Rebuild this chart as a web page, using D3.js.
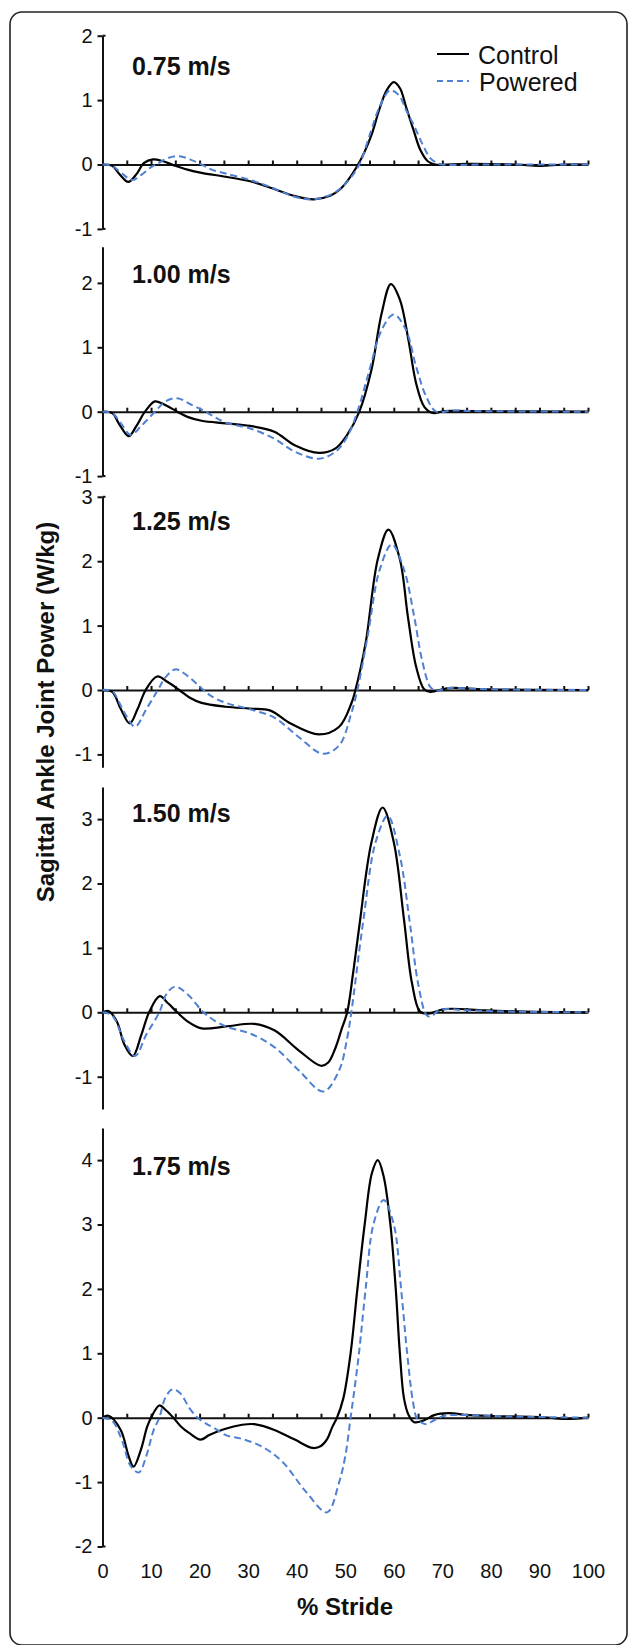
<!DOCTYPE html>
<html>
<head>
<meta charset="utf-8">
<script src="https://cdn.jsdelivr.net/npm/d3@7"></script>
<style>
body { margin: 0; background: #fff; }
svg { display: block; }
text { font-family: "Liberation Sans", Arial, sans-serif; fill: #111; }
</style>
</head>
<body>
<svg class="chart"></svg>
<script>
// speeds shown in each panel
var speeds = ["0.75 m/s", "1.00 m/s", "1.25 m/s", "1.50 m/s", "1.75 m/s"];
var seriesNames = ["Control", "Powered"];
var strideTicks = [0, 10, 20, 30, 40, 50, 60, 70, 80, 90, 100];

var yTicks075 = [-1, 0, 1, 2];
var yTicks100 = [-1, 0, 1, 2];
var yTicks125 = [-1, 0, 1, 2, 3];
var yTicks150 = [-1, 0, 1, 2, 3];
var yTicks175 = [-2, -1, 0, 1, 2, 3, 4];

// [% stride, W/kg]
var control075 = [[0,0],[2,-0.02],[3.5,-0.15],[5.3,-0.27],[7,-0.15],[8.5,0.02],[10.4,0.08],[12.5,0.05],[15,-0.02],[17.5,-0.08],[20.4,-0.13],[25.4,-0.19],[30.4,-0.26],[34.6,-0.36],[39.6,-0.49],[43.5,-0.54],[47,-0.48],[49,-0.38],[50.5,-0.25],[52.5,-0.02],[54,0.2],[55.5,0.48],[57,0.85],[58.5,1.15],[60,1.28],[61.3,1.18],[62.5,0.9],[64,0.55],[65.5,0.22],[67,0.05],[68.5,0],[75,0.01],[85,0],[90,-0.02],[95,0],[100,0]];
var powered075 = [[0,0],[2,-0.02],[4,-0.14],[6.2,-0.24],[8,-0.16],[10,-0.04],[11.7,0.03],[13.5,0.1],[15.8,0.13],[18,0.08],[20.4,0],[22.5,-0.08],[25.4,-0.14],[30.4,-0.24],[34.6,-0.35],[39.6,-0.5],[43.5,-0.54],[47.5,-0.45],[50.4,-0.27],[52.9,0],[55,0.45],[57,0.88],[59.2,1.15],[61,1.08],[62.5,0.85],[64.2,0.6],[66,0.3],[67.5,0.1],[69,0.02],[70,0],[80,0],[100,0]];

var control100 = [[0,0],[2,-0.02],[3.5,-0.2],[5.4,-0.38],[7,-0.22],[8.75,0],[10.8,0.16],[12.5,0.12],[15.4,0],[17.5,-0.08],[20.4,-0.14],[25.4,-0.18],[30.4,-0.22],[35.4,-0.31],[39.6,-0.52],[44.6,-0.64],[48,-0.57],[50.4,-0.36],[52.9,0],[55.4,0.65],[57.5,1.53],[59.4,1.98],[61.25,1.74],[63,1.12],[64.6,0.44],[66.25,0.08],[68,-0.02],[70.4,0.01],[75,0.01],[100,0]];
var powered100 = [[0,0],[2,-0.02],[3.8,-0.18],[5.8,-0.36],[8,-0.22],[10.8,0],[13,0.16],[15.4,0.21],[18,0.12],[21.25,0],[23,-0.08],[25.4,-0.17],[30.4,-0.26],[35.4,-0.42],[39.6,-0.62],[44.6,-0.73],[48,-0.62],[50.4,-0.39],[52.5,0],[55,0.65],[57.5,1.27],[60,1.51],[62.5,1.27],[64.6,0.7],[66.7,0.23],[68.75,0],[72,0.02],[76,0.01],[100,0]];

var control125 = [[0,0],[2,-0.03],[3.8,-0.3],[5.6,-0.52],[7.2,-0.3],[8.9,0],[11.25,0.21],[13.5,0.12],[15.8,0],[18,-0.12],[20.4,-0.2],[25.4,-0.26],[30.4,-0.29],[34.6,-0.32],[38.75,-0.52],[44.6,-0.69],[48.75,-0.57],[51.25,-0.21],[52.1,0],[54.2,0.73],[56.7,2.03],[58.9,2.49],[61.25,2.03],[62.9,1.14],[64.6,0.36],[66.25,0.01],[67.5,-0.03],[71.25,0.03],[78.75,0.01],[100,0]];
var powered125 = [[0,0],[2,-0.02],[4.5,-0.35],[6.7,-0.57],[9,-0.3],[11.4,0],[13,0.2],[15,0.32],[17.5,0.22],[20.8,0],[22.5,-0.1],[25.4,-0.2],[30.4,-0.3],[35.4,-0.43],[40.4,-0.73],[45.4,-0.99],[48.75,-0.86],[51.25,-0.36],[52.5,0],[54.6,0.83],[57.1,1.87],[59.6,2.26],[62.1,1.87],[64.2,1.14],[65.8,0.47],[67.5,0.05],[68.75,-0.01],[71.25,0.03],[80,0.01],[100,0]];

var control150 = [[0,0],[1.25,0.02],[3,-0.15],[4.5,-0.5],[6.25,-0.68],[8,-0.35],[9.6,0],[11.8,0.25],[13.5,0.14],[15.4,0],[17.5,-0.14],[20.4,-0.25],[25.4,-0.22],[31.25,-0.18],[35.4,-0.28],[40.4,-0.59],[45,-0.83],[46.5,-0.78],[48,-0.55],[49.3,-0.25],[50.4,0],[51.6,0.6],[52.9,1.34],[55.4,2.64],[57.7,3.18],[60,2.64],[62.1,1.44],[63.75,0.45],[65.4,0.01],[67.1,-0.02],[70.4,0.05],[78.75,0.03],[87,0.01],[100,0]];
var powered150 = [[0,0],[2,-0.05],[4.5,-0.45],[6.7,-0.68],[9,-0.35],[11.7,0],[13.3,0.3],[15,0.4],[17.5,0.28],[20.8,0],[22.5,-0.1],[25.4,-0.22],[30.4,-0.33],[35.4,-0.54],[40.4,-0.9],[45.5,-1.23],[48.75,-0.9],[50.4,-0.4],[51.25,0],[53.75,1.44],[56.25,2.64],[58.75,3.05],[61.25,2.43],[63.3,1.39],[65,0.45],[66.7,-0.04],[67.5,-0.07],[69.6,0.04],[75,0.03],[85,0.01],[100,0]];

var control175 = [[0,0],[1.25,0.03],[3.75,-0.19],[5.4,-0.6],[6.4,-0.76],[7.9,-0.5],[9.2,-0.14],[10,0],[11.7,0.19],[13,0.12],[14.6,0],[16.2,-0.14],[17.9,-0.24],[20.2,-0.34],[22,-0.27],[25,-0.18],[28.75,-0.11],[31.25,-0.1],[35.4,-0.19],[39.6,-0.34],[43.3,-0.47],[45,-0.44],[46.3,-0.33],[47.3,-0.15],[48.3,0],[49.6,0.3],[51.1,1.0],[52.5,2.0],[54,3.0],[55.5,3.8],[56.7,4.0],[57.9,3.75],[59.3,3.0],[60.4,2.0],[61.25,1.0],[62.1,0.3],[63,0.05],[64.2,-0.07],[66.25,-0.04],[68.3,0.04],[71.25,0.07],[75.4,0.04],[83,0.02],[90,0.01],[95.4,-0.02],[100,0]];
var powered175 = [[0,0],[2,-0.05],[4,-0.35],[5.8,-0.75],[7.5,-0.85],[9,-0.6],[10.5,-0.2],[11.7,0],[13,0.32],[14.4,0.44],[16,0.38],[17.9,0.15],[19.6,0],[21.5,-0.1],[23,-0.16],[25.4,-0.27],[28.75,-0.33],[32.9,-0.45],[37,-0.68],[42,-1.16],[46.25,-1.47],[48.75,-1.0],[50,-0.6],[51.1,0],[52,0.5],[52.9,1.05],[54.2,2.0],[55.8,3.0],[57.9,3.38],[60,3.0],[61.5,2.0],[62.75,1.0],[63.9,0.27],[64.8,-0.02],[65.8,-0.08],[66.7,-0.1],[68.3,-0.04],[70.4,0.03],[75,0.04],[83,0.02],[100,0]];

var controlSeries = [control075, control100, control125, control150, control175];
var poweredSeries = [powered075, powered100, powered125, powered150, powered175];
var yTickSets = [yTicks075, yTicks100, yTicks125, yTicks150, yTicks175];

// layout of each panel: zero line position and axis extent
var layout = [
  { zero: 164.5,  lo: -1,   hi: 2,    labelY: 75 },
  { zero: 411.7,  lo: -1,   hi: 2.56, labelY: 283 },
  { zero: 690,    lo: -1.2, hi: 3,    labelY: 530 },
  { zero: 1012.3, lo: -1.5, hi: 3.5,  labelY: 822 },
  { zero: 1417.7, lo: -2,   hi: 4.5,  labelY: 1175 }
];
var unit = 64.4;
var blue = "#4f80d2";

var svg = d3.select(".chart")
  .attr("width", 629)
  .attr("height", 1645);

// rounded frame
svg.append("rect")
  .attr("x", 10).attr("y", 12)
  .attr("width", 617).attr("height", 1633)
  .attr("rx", 12)
  .attr("fill", "none")
  .attr("stroke", "#222")
  .attr("stroke-width", 1.6);

var x = d3.scaleLinear().domain([0, 100]).range([102.5, 588]);

layout.forEach(function(p, i) {
  var y = d3.scaleLinear()
    .domain([p.lo, p.hi])
    .range([p.zero - p.lo * unit, p.zero - p.hi * unit]);
  var g = svg.append("g");

  // y axis
  var ya = g.append("g")
    .attr("transform", "translate(" + x(0) + ",0)")
    .call(d3.axisLeft(y).tickValues(yTickSets[i]).tickSize(5).tickSizeOuter(0).tickPadding(5)
      .tickFormat(function(d) { return String(d); }));
  ya.selectAll("path, line").attr("stroke", "#111").attr("stroke-width", 2);
  ya.selectAll("text").style("font-size", "20px").attr("fill", "#111");

  // small hooks at the axis ends that sit on a tick
  [p.lo, p.hi].forEach(function(v) {
    if (yTickSets[i].indexOf(v) >= 0) {
      g.append("line")
        .attr("x1", x(0)).attr("x2", x(0) + 3)
        .attr("y1", y(v)).attr("y2", y(v))
        .attr("stroke", "#111").attr("stroke-width", 2);
    }
  });

  // zero line with stride ticks
  var xa = g.append("g")
    .attr("transform", "translate(0," + y(0) + ")")
    .call(d3.axisTop(x).tickValues(d3.range(5, 101, 5)).tickSize(4).tickSizeOuter(0).tickFormat(""));
  xa.selectAll("path, line").attr("stroke", "#111").attr("stroke-width", 2);

  var line = d3.line()
    .x(function(d) { return x(d[0]); })
    .y(function(d) { return y(d[1]); })
    .curve(d3.curveCatmullRom.alpha(0.5));

  g.append("path")
    .datum(controlSeries[i])
    .attr("d", line)
    .attr("fill", "none")
    .attr("stroke", "#000")
    .attr("stroke-width", 2.2);

  g.append("path")
    .datum(poweredSeries[i])
    .attr("d", line)
    .attr("fill", "none")
    .attr("stroke", blue)
    .attr("stroke-width", 2)
    .attr("stroke-dasharray", "7,4");

  g.append("text")
    .attr("x", 132)
    .attr("y", p.labelY)
    .style("font-size", "25px")
    .style("font-weight", "bold")
    .text(speeds[i]);
});

// stride labels under the last panel
var bx = svg.append("g")
  .attr("transform", "translate(0,1550)")
  .call(d3.axisBottom(x).tickValues(strideTicks).tickSize(0).tickPadding(13.5));
bx.select(".domain").remove();
bx.selectAll("text").style("font-size", "20px").attr("fill", "#111");

svg.append("text")
  .attr("x", 345)
  .attr("y", 1615)
  .attr("text-anchor", "middle")
  .style("font-size", "24px")
  .style("font-weight", "bold")
  .text("% Stride");

svg.append("text")
  .attr("transform", "translate(54,712) rotate(-90)")
  .attr("text-anchor", "middle")
  .style("font-size", "24px")
  .style("font-weight", "bold")
  .text("Sagittal Ankle Joint Power (W/kg)");

// legend
var legend = svg.append("g");
legend.append("line")
  .attr("x1", 437).attr("x2", 469).attr("y1", 54).attr("y2", 54)
  .attr("stroke", "#000").attr("stroke-width", 2);
legend.append("line")
  .attr("x1", 437).attr("x2", 469).attr("y1", 81).attr("y2", 81)
  .attr("stroke", blue).attr("stroke-width", 2).attr("stroke-dasharray", "6,4");
legend.append("text").attr("x", 478).attr("y", 64).style("font-size", "25px").text(seriesNames[0]);
legend.append("text").attr("x", 479).attr("y", 91).style("font-size", "25px").text(seriesNames[1]);
</script>
</body>
</html>
